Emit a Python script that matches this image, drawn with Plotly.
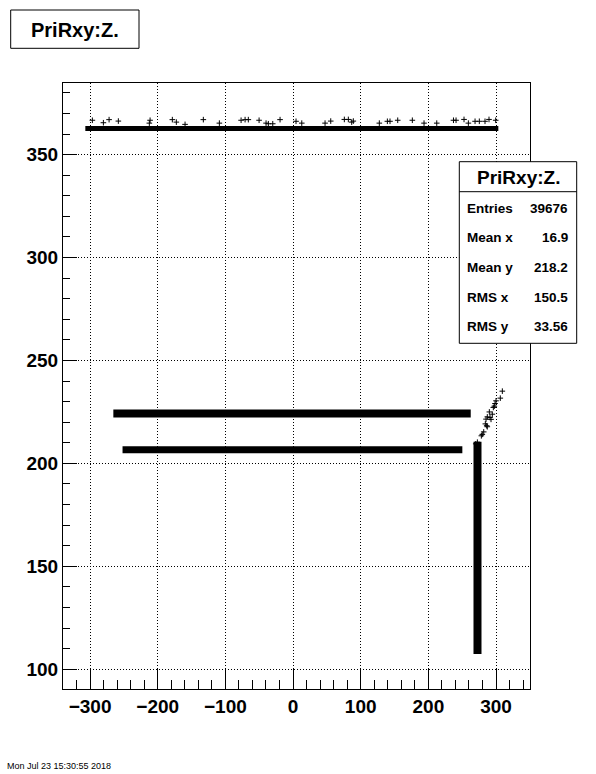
import plotly.graph_objects as go

# ---------------- data ----------------
title_text = "PriRxy:Z."
date_text = "Mon Jul 23 15:30:55 2018"

# dense horizontal bands (drawn as thick strokes)
band_names = ["upper", "middle", "lower"]
band_y = [362.7, 224.3, 206.6]
band_x_start = [-307.0, -265.6, -252.0]
band_x_end = [303.4, 262.6, 250.2]

# dense vertical band
vband_x = [272.6, 272.6]
vband_y = [107.4, 210.5]

# sparse diagonal points
diag_x = [309.3, 306.3, 300.0, 298.5, 297.5, 296.0, 290.1, 294.5, 287.1, 291.1,
          292.6, 285.2, 284.2, 286.2, 287.1, 281.8, 279.7, 278.3, 272.4, 270.0]
diag_y = [235.1, 231.7, 230.4, 229.1, 227.8, 227.2, 225.0, 223.9, 222.6, 222.3,
          221.4, 221.5, 219.2, 218.3, 217.8, 215.3, 214.1, 213.4, 210.3, 209.5]

# sparse outliers above the upper band
out_x = [-296.6, -280.3, -271.9, -258.2, -211.3, -212.4, -178.4, -172.5, -159.6,
         -132.6, -108.9, -76.8, -70.9, -66.1, -50.2, -39.9, -36.5, -30.0, -19.2,
         4.4, 12.9, 47.3, 55.7, 75.8, 81.7, 86.7, 89.1, 127.5, 139.4, 143.3,
         154.7, 176.3, 193.6, 212.4, 237.1, 240.9, 252.7, 259.1, 269.0, 275.3,
         283.7, 289.6, 299.5]
out_y = [366.7, 365.5, 367.0, 366.3, 366.7, 365.3, 367.0, 365.8, 364.7,
         367.0, 365.3, 366.7, 367.0, 367.0, 366.7, 365.3, 365.0, 365.0, 367.0,
         366.2, 365.3, 365.3, 366.3, 367.1, 367.1, 365.8, 366.3, 365.3, 366.2, 366.2,
         366.7, 366.7, 365.3, 365.3, 366.7, 366.7, 367.1, 365.3, 366.2, 366.2,
         366.2, 367.1, 366.7]

# statistics box
stat_labels = ["Entries", "Mean x", "Mean y", "RMS x", "RMS y"]
stat_values = ["39676", "16.9", "218.2", "150.5", "33.56"]

x_range = [-340, 350.2]
y_range = [90.4, 384.8]
x_ticks = [-300, -200, -100, 0, 100, 200, 300]
y_ticks = [100, 150, 200, 250, 300, 350]

# ---------------- figure ----------------
FONT = "Liberation Sans, Arial, sans-serif"
W, H = 596, 774
ML, MR, MT, MB = 63, 66, 83, 85
PW = W - ML - MR
PH = H - MT - MB


def px2paper_x(px):
    return (px - ML) / PW


def px2paper_y(py):
    return (MT + PH - py) / PH


fig = go.Figure()

band_widths = [5, 8, 7]
for name, y, xs, xe, w in zip(band_names, band_y, band_x_start, band_x_end, band_widths):
    fig.add_trace(go.Scatter(x=[xs, xe], y=[y, y], mode="lines",
                             line=dict(color="black", width=w),
                             name=name, showlegend=False, hoverinfo="skip"))

fig.add_trace(go.Scatter(x=vband_x, y=vband_y, mode="lines",
                         line=dict(color="black", width=8),
                         showlegend=False, hoverinfo="skip"))

marker = dict(symbol="cross-thin", size=4, color="black",
              line=dict(width=1, color="black"))
fig.add_trace(go.Scatter(x=diag_x, y=diag_y, mode="markers", marker=marker,
                         showlegend=False))
fig.add_trace(go.Scatter(x=out_x, y=out_y, mode="markers", marker=marker,
                         showlegend=False))

axis_common = dict(
    showline=True, linecolor="black", linewidth=1, mirror=True,
    ticks="inside", tickcolor="black", tickwidth=1,
    showgrid=True, gridcolor="black", gridwidth=1, griddash="1px,2px",
    zeroline=False, automargin=False,
    tickfont=dict(family=FONT, size=19, color="black", weight="bold"),
)

fig.update_xaxes(range=x_range, tickvals=x_ticks, ticklen=20,
                 minor=dict(dtick=20, tick0=0, ticklen=9, ticks="inside",
                            tickcolor="black", showgrid=False),
                 **axis_common)
fig.update_yaxes(range=y_range, tickvals=y_ticks, ticklen=14,
                 minor=dict(dtick=10, tick0=0, ticklen=7, ticks="inside",
                            tickcolor="black", showgrid=False),
                 **axis_common)

shapes = []
annotations = []

# title box
shapes.append(dict(type="rect", xref="paper", yref="paper",
                   x0=px2paper_x(10.7), x1=px2paper_x(139),
                   y0=px2paper_y(48.3), y1=px2paper_y(10),
                   line=dict(color="black", width=1), fillcolor="white"))
annotations.append(dict(text=title_text, xref="paper", yref="paper",
                        x=px2paper_x(74.8), y=px2paper_y(29.5),
                        xanchor="center", yanchor="middle", showarrow=False,
                        font=dict(family=FONT, size=20, color="black", weight="bold")))

# stats box
shapes.append(dict(type="rect", xref="paper", yref="paper",
                   x0=px2paper_x(459.3), x1=px2paper_x(576.7),
                   y0=px2paper_y(343.3), y1=px2paper_y(161.7),
                   line=dict(color="black", width=1), fillcolor="white"))
shapes.append(dict(type="line", xref="paper", yref="paper",
                   x0=px2paper_x(459.3), x1=px2paper_x(576.7),
                   y0=px2paper_y(191.7), y1=px2paper_y(191.7),
                   line=dict(color="black", width=1)))
annotations.append(dict(text=title_text, xref="paper", yref="paper",
                        x=px2paper_x(518), y=px2paper_y(177),
                        xanchor="center", yanchor="middle", showarrow=False,
                        font=dict(family=FONT, size=19, color="black", weight="bold")))
row_py = [208.3, 237.7, 267.7, 297.3, 326.7]
for lab, val, py in zip(stat_labels, stat_values, row_py):
    annotations.append(dict(text=lab, xref="paper", yref="paper",
                            x=px2paper_x(465), y=px2paper_y(py),
                            xanchor="left", yanchor="middle", showarrow=False,
                            font=dict(family=FONT, size=13.5, color="black", weight="bold")))
    annotations.append(dict(text=val, xref="paper", yref="paper",
                            x=px2paper_x(569.5), y=px2paper_y(py),
                            xanchor="right", yanchor="middle", showarrow=False,
                            font=dict(family=FONT, size=13.5, color="black", weight="bold")))

# date stamp at the bottom-left edge
annotations.append(dict(text=date_text, xref="paper", yref="paper",
                        x=px2paper_x(5), y=px2paper_y(773),
                        xanchor="left", yanchor="bottom", showarrow=False,
                        font=dict(family=FONT, size=9, color="black")))

fig.update_layout(
    width=W, height=H,
    margin=dict(l=ML, r=MR, t=MT, b=MB, pad=0),
    plot_bgcolor="white", paper_bgcolor="white",
    showlegend=False,
    shapes=shapes, annotations=annotations,
    font=dict(family=FONT),
)

fig.write_html("out.html", config={"displayModeBar": False},
               post_script="document.body.style.margin='0';document.body.style.padding='0';")
